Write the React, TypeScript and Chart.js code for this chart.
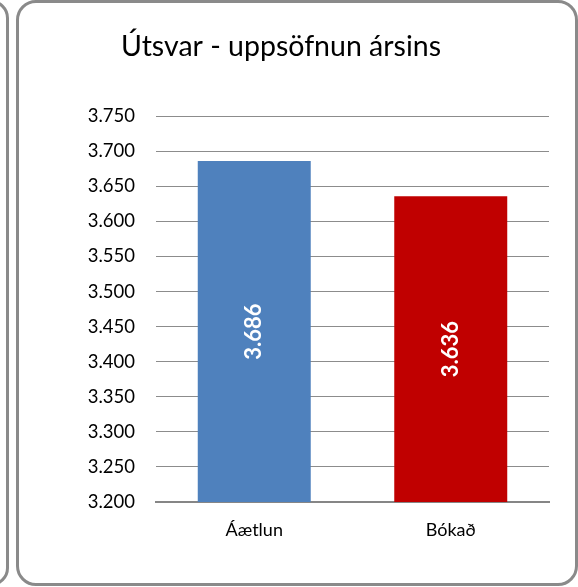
import React, { useEffect, useRef } from "react";
import { Chart, registerables } from "chart.js";

Chart.register(...registerables);

const categories = ["Áætlun", "Bókað"];
const values = [3686, 3636];
const barColors = ["#4F81BD", "#C00000"];
const yMin = 3200;
const yMax = 3750;
const yStep = 50;
const title = "Útsvar - uppsöfnun ársins";

const fmt = (v: number) => {
  const s = Math.round(v).toString();
  return s.replace(/\B(?=(\d{3})+(?!\d))/g, ".");
};

const FONT = "Lato, 'Open Sans', sans-serif";

const labelPlugin = {
  id: "barLabels",
  afterDraw(chart: any) {
    const ctx = chart.ctx;
    const xs = chart.scales.x;
    const ys = chart.scales.y;
    ctx.save();
    ctx.fillStyle = "#ffffff";
    ctx.font = "bold 22px Lato, sans-serif";
    ctx.textAlign = "center";
    ctx.textBaseline = "middle";
    values.forEach((v, i) => {
      const cx = xs.getPixelForValue(i);
      const cy = (ys.getPixelForValue(v) + ys.getPixelForValue(yMin)) / 2;
      ctx.save();
      ctx.translate(cx, cy);
      ctx.rotate(-Math.PI / 2);
      ctx.fillText(fmt(v), 0, 0);
      ctx.restore();
    });
    ctx.restore();
  },
};

export default function App() {
  const ref = useRef<HTMLCanvasElement | null>(null);
  useEffect(() => {
    document.body.style.margin = "0";
    if (!ref.current) return;
    const chart = new Chart(ref.current, {
      type: "bar",
      data: {
        labels: categories,
        datasets: [
          {
            data: values,
            backgroundColor: barColors,
            borderWidth: 0,
            barPercentage: 0.575,
            categoryPercentage: 1,
          },
        ],
      },
      options: {
        responsive: false,
        animation: false,
        layout: { padding: { left: 13, right: 29, top: 0, bottom: 15 } },
        plugins: {
          legend: { display: false },
          tooltip: { enabled: false },
          title: {
            display: true,
            text: title,
            color: "#000000",
            font: { family: FONT, size: 28.5, weight: "normal" },
            padding: { top: 30, bottom: 52 },
          },
        },
        scales: {
          x: {
            grid: { display: false, drawTicks: false },
            border: { display: true, color: "#868686", width: 2 },
            ticks: {
              color: "#000000",
              font: { family: FONT, size: 18 },
              padding: 17,
            },
            afterFit: (s: any) => {
              s.height = 70;
            },
          },
          y: {
            min: yMin,
            max: yMax,
            grid: { color: "#8c8c8c", lineWidth: 1, drawTicks: false },
            border: { display: false },
            ticks: {
              stepSize: yStep,
              color: "#000000",
              font: { family: FONT, size: 18.5 },
              padding: 21,
              callback: (v: any) => fmt(Number(v)),
            },
            afterFit: (s: any) => {
              s.width = 143;
            },
          },
        },
      },
      plugins: [labelPlugin],
    });
    return () => chart.destroy();
  }, []);

  return (
    <div style={{ position: "absolute", left: 0, top: 0, width: 578, height: 587, overflow: "hidden", background: "#ffffff" }}>
      <div
        style={{
          position: "absolute",
          left: -300,
          top: 0,
          width: 303,
          height: 580,
          border: "3px solid #8a8a8a",
          borderRadius: 18,
        }}
      />
      <div
        style={{
          position: "absolute",
          left: 16,
          top: 0,
          width: 556,
          height: 580,
          border: "3px solid #8a8a8a",
          borderRadius: 20,
          background: "#ffffff",
        }}
      />
      <canvas ref={ref} width={578} height={587} style={{ position: "absolute", left: 0, top: 0 }} />
    </div>
  );
}
